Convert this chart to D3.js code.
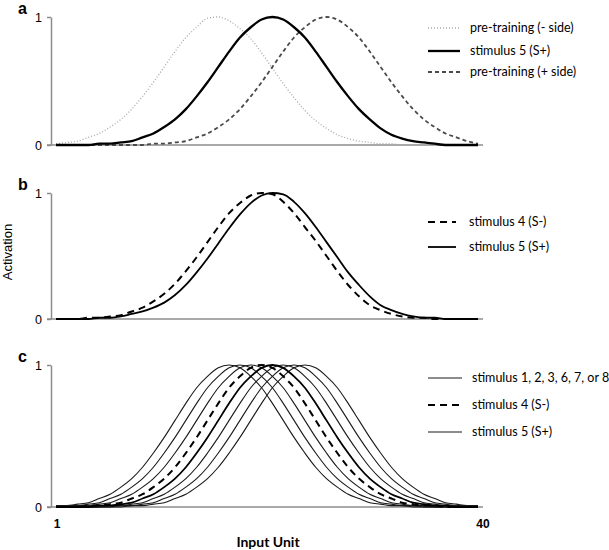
<!DOCTYPE html>
<html lang="en">
  <head>
    <meta charset="UTF-8" />
    <title>Activation by input unit</title>
    <style>
      body { margin: 0; background: #fff; }
      svg { display: block; }
      .tick-label { font-family: Arial, "Liberation Sans", sans-serif; font-size: 12px; fill: #000; }
      .panel-label { font-family: Arial, "Liberation Sans", sans-serif; font-size: 16px; font-weight: bold; fill: #000; }
      .legend-text { font-family: Lato, "Open Sans", sans-serif; font-size: 12.5px; fill: #000; }
      .axis-title { font-family: Lato, "Open Sans", sans-serif; font-size: 14px; font-weight: bold; fill: #000; }
    </style>
  </head>
  <body>
    <div id="chart"></div>

    <script src="https://cdn.jsdelivr.net/npm/d3@7"></script>
    <script>

    // input units on the x axis
    var units = d3.range(1, 41);
    var xTicks = [1, 40];
    var yTicks = [0, 1];

    // panel a
    var preMinus = [0.01,0.02,0.03,0.06,0.09,0.14,0.20,0.28,0.38,0.49, 0.61,0.73,0.84,0.92,0.99,1.00,0.97,0.91,0.83,0.72, 0.60,0.48,0.37,0.27,0.19,0.13,0.08,0.05,0.03,0.02, 0.01,0.01,0,0,0,0,0,0,0,0];
    var stimPlusA = [0,0,0,0,0.01,0.01,0.02,0.03,0.06,0.09, 0.14,0.20,0.28,0.38,0.49,0.61,0.73,0.84,0.92,0.98, 1.00,0.98,0.92,0.84,0.73,0.61,0.49,0.38,0.28,0.20, 0.13,0.08,0.05,0.03,0.02,0.01,0,0,0,0];
    var prePlus = [0,0,0,0,0,0,0,0,0,0.01, 0.01,0.02,0.03,0.06,0.09,0.14,0.20,0.28,0.38,0.49, 0.61,0.73,0.84,0.92,0.98,1.00,0.98,0.92,0.84,0.73, 0.61,0.49,0.38,0.28,0.20,0.14,0.09,0.06,0.03,0.01];

    // panel b
    var stimMinusB = [0,0,0,0.01,0.01,0.02,0.03,0.06,0.09,0.14, 0.20,0.28,0.38,0.49,0.61,0.73,0.84,0.92,0.98,1.00, 0.99,0.93,0.84,0.73,0.62,0.50,0.38,0.27,0.18,0.11, 0.07,0.04,0.02,0.01,0.01,0,0,0,0,0];
    var stimPlusB = [0,0,0,0,0.01,0.01,0.02,0.04,0.06,0.09, 0.13,0.19,0.27,0.37,0.48,0.60,0.72,0.83,0.92,0.98, 1.00,0.99,0.93,0.84,0.73,0.61,0.49,0.37,0.27,0.18, 0.11,0.07,0.04,0.02,0.01,0.01,0,0,0,0];

    // panel c, stimuli 1 to 8
    var stim1 = [0.01,0.01,0.02,0.03,0.06,0.09,0.14,0.20,0.28,0.38, 0.49,0.61,0.73,0.84,0.92,0.98,1.00,0.98,0.92,0.84, 0.73,0.61,0.49,0.38,0.28,0.20,0.14,0.09,0.06,0.03, 0.02,0.01,0.01,0,0,0,0,0,0,0];
    var stim2 = [0,0.01,0.01,0.02,0.03,0.06,0.09,0.14,0.20,0.28, 0.38,0.49,0.61,0.73,0.84,0.92,0.98,1.00,0.98,0.92, 0.84,0.73,0.61,0.49,0.38,0.28,0.20,0.14,0.09,0.06, 0.03,0.02,0.01,0.01,0,0,0,0,0,0];
    var stim3 = [0,0,0.01,0.01,0.02,0.03,0.06,0.09,0.14,0.20, 0.28,0.38,0.49,0.61,0.73,0.84,0.92,0.98,1.00,0.98, 0.92,0.84,0.73,0.61,0.49,0.38,0.28,0.20,0.14,0.09, 0.06,0.03,0.02,0.01,0.01,0,0,0,0,0];
    var stim4 = [0,0,0,0.01,0.01,0.02,0.03,0.06,0.09,0.14, 0.20,0.28,0.38,0.49,0.61,0.73,0.84,0.92,0.98,1.00, 0.98,0.92,0.84,0.73,0.61,0.49,0.38,0.28,0.20,0.14, 0.09,0.06,0.03,0.02,0.01,0.01,0,0,0,0];
    var stim5 = [0,0,0,0,0.01,0.01,0.02,0.03,0.06,0.09, 0.14,0.20,0.28,0.38,0.49,0.61,0.73,0.84,0.92,0.98, 1.00,0.98,0.92,0.84,0.73,0.61,0.49,0.38,0.28,0.20, 0.14,0.09,0.06,0.03,0.02,0.01,0.01,0,0,0];
    var stim6 = [0,0,0,0,0,0.01,0.01,0.02,0.03,0.06, 0.09,0.14,0.20,0.28,0.38,0.49,0.61,0.73,0.84,0.92, 0.98,1.00,0.98,0.92,0.84,0.73,0.61,0.49,0.38,0.28, 0.20,0.14,0.09,0.06,0.03,0.02,0.01,0.01,0,0];
    var stim7 = [0,0,0,0,0,0,0.01,0.01,0.02,0.03, 0.06,0.09,0.14,0.20,0.28,0.38,0.49,0.61,0.73,0.84, 0.92,0.98,1.00,0.98,0.92,0.84,0.73,0.61,0.49,0.38, 0.28,0.20,0.14,0.09,0.06,0.03,0.02,0.01,0.01,0];
    var stim8 = [0,0,0,0,0,0,0,0.01,0.01,0.02, 0.03,0.06,0.09,0.14,0.20,0.28,0.38,0.49,0.61,0.73, 0.84,0.92,0.98,1.00,0.98,0.92,0.84,0.73,0.61,0.49, 0.38,0.28,0.20,0.14,0.09,0.06,0.03,0.02,0.01,0.01];

    var w = 609;
    var h = 550;
    var axisX = 51;      // y axis position
    var axisEnd = 483;   // right end of x axis line

    var svg = d3.select("#chart")
                .append("svg")
                .attr("width", w)
                .attr("height", h);

    var xScale = d3.scaleLinear()
                   .domain([1, 40])
                   .range([56, 478]);

    // three stacked panels: top (value 1) and bottom (value 0) in pixels
    var panels = [
      { label: "a", top: 17,  bottom: 145 },
      { label: "b", top: 193, bottom: 319 },
      { label: "c", top: 365, bottom: 507 }
    ];

    panels.forEach(function(p) {
      p.y = d3.scaleLinear().domain([0, 1]).range([p.bottom, p.top]);
      p.g = svg.append("g").attr("class", "panel-" + p.label);

      var yAxis = d3.axisLeft(p.y)
                    .tickValues(yTicks)
                    .tickFormat(d3.format("d"))
                    .tickSize(4)
                    .tickSizeOuter(0);
      var ya = p.g.append("g")
                  .attr("transform", "translate(" + axisX + ",0)")
                  .call(yAxis);
      ya.select(".domain").attr("stroke", "#8c8c8c").attr("stroke-width", 1.5);
      ya.selectAll(".tick line").attr("stroke", "#8c8c8c").attr("stroke-width", 1.5);
      ya.selectAll(".tick text")
        .attr("class", "tick-label")
        .attr("x", -9)
        .style("font-size", "12.5px")
        .style("font-family", "Arial, 'Liberation Sans', sans-serif");

      // x axis baseline
      p.g.append("line")
         .attr("x1", axisX - 4)
         .attr("x2", axisEnd)
         .attr("y1", p.y(0))
         .attr("y2", p.y(0))
         .attr("stroke", "#8c8c8c")
         .attr("stroke-width", 1.5);

      p.g.append("text")
         .attr("class", "panel-label")
         .attr("x", 18)
         .attr("y", p.top - 3)
         .text(p.label);
    });

    function drawLine(panel, values, style) {
      var line = d3.line()
                   .x(function(d, i) { return xScale(units[i]); })
                   .y(function(d) { return panel.y(d); })
                   .curve(d3.curveMonotoneX);
      panel.g.append("path")
             .datum(values)
             .attr("d", line)
             .attr("fill", "none")
             .attr("stroke", style.color)
             .attr("stroke-width", style.width)
             .attr("stroke-dasharray", style.dash || null)
             .attr("stroke-linejoin", "round");
    }

    function drawLegend(panel, items, x0, x1, tx) {
      items.forEach(function(it) {
        panel.g.append("line")
               .attr("x1", x0)
               .attr("x2", x1)
               .attr("y1", it.y)
               .attr("y2", it.y)
               .attr("stroke", it.style.color)
               .attr("stroke-width", it.style.width)
               .attr("stroke-dasharray", it.style.dash || null);
        panel.g.append("text")
               .attr("class", "legend-text")
               .attr("x", tx)
               .attr("y", it.y + 4)
               .text(it.text);
      });
    }

    // styles
    var dotted = { color: "#a8a8a8", width: 1.3, dash: "1,2" };
    var thickSolid = { color: "#000", width: 2.3 };
    var greyDash = { color: "#4a4a4a", width: 1.8, dash: "4,3" };
    var blackDash = { color: "#000", width: 2, dash: "7,5" };
    var solid = { color: "#000", width: 1.8 };
    var thin = { color: "#1a1a1a", width: 1.1 };

    // panel a
    var pa = panels[0];
    drawLine(pa, preMinus, dotted);
    drawLine(pa, prePlus, greyDash);
    drawLine(pa, stimPlusA, thickSolid);
    drawLegend(pa, [
      { text: "pre-training (- side)", style: dotted, y: 28 },
      { text: "stimulus 5 (S+)", style: thickSolid, y: 51 },
      { text: "pre-training (+ side)", style: greyDash, y: 72 }
    ], 428, 460, 470);

    // panel b
    var pb = panels[1];
    drawLine(pb, stimMinusB, blackDash);
    drawLine(pb, stimPlusB, solid);
    drawLegend(pb, [
      { text: "stimulus 4 (S-)", style: blackDash, y: 222 },
      { text: "stimulus 5 (S+)", style: solid, y: 247 }
    ], 428, 456, 469);

    // panel c
    var pc = panels[2];
    [stim1, stim2, stim3, stim6, stim7, stim8].forEach(function(s) {
      drawLine(pc, s, thin);
    });
    drawLine(pc, stim4, blackDash);
    drawLine(pc, stim5, solid);
    drawLegend(pc, [
      { text: "stimulus 1, 2, 3, 6, 7, or 8", style: thin, y: 378 },
      { text: "stimulus 4 (S-)", style: blackDash, y: 405 },
      { text: "stimulus 5 (S+)", style: thin, y: 432 }
    ], 428, 462, 472);

    // x tick labels under panel c
    svg.selectAll("text.xtick")
       .data(xTicks)
       .enter()
       .append("text")
       .attr("class", "xtick tick-label")
       .attr("x", function(d) { return d === 40 ? xScale(d) + 5 : xScale(d) + 1; })
       .attr("y", 528)
       .attr("text-anchor", "middle")
       .style("font-weight", "bold")
       .text(function(d) { return d; });

    svg.append("text")
       .attr("class", "axis-title")
       .attr("x", 268)
       .attr("y", 547)
       .attr("text-anchor", "middle")
       .text("Input Unit");

    svg.append("text")
       .attr("class", "tick-label")
       .attr("transform", "translate(12,252) rotate(-90)")
       .attr("text-anchor", "middle")
       .style("font-size", "13px")
       .text("Activation");

    </script>
  </body>
</html>
